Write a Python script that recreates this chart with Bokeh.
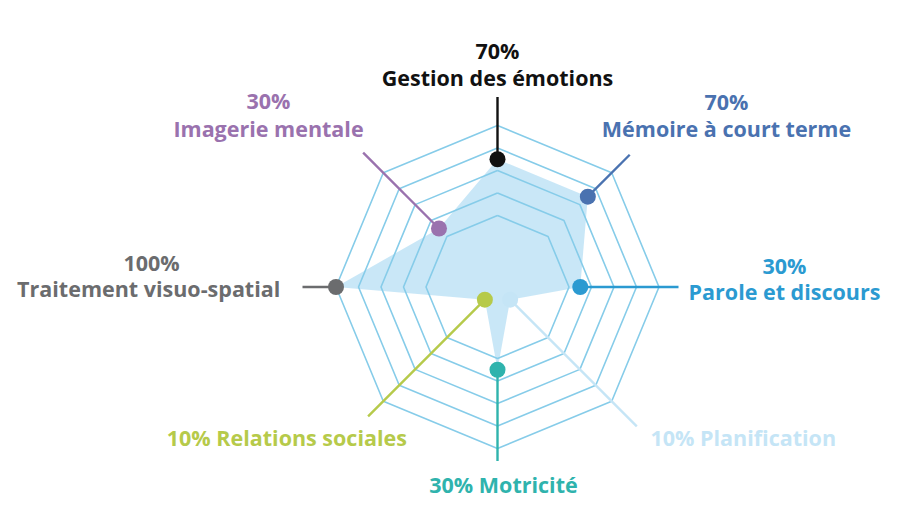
import numpy as np
from bokeh.plotting import figure
from bokeh.models import Range1d
from bokeh.core.properties import value
from bokeh.embed import file_html
from bokeh.resources import INLINE

# ---------------- data ----------------
categories = ["Gestion des émotions", "Mémoire à court terme", "Parole et discours",
              "Planification", "Motricité", "Relations  sociales",
              "Traitement  visuo-spatial", "Imagerie mentale"]
values = [70, 70, 30, 10, 30, 10, 100, 30]
ring_levels = [20, 40, 60, 80, 100]
pct_labels = [f"{v}%" for v in values]

# ---------------- style ----------------
colors = ["#111111", "#4a72b0", "#2b9ad1", "#c5e5f6",
          "#2fb3ad", "#b6ca4a", "#6b6c6e", "#9a72ae"]
angles_deg = [90, 45, 0, -45, -90, -135, 180, 135]
leader_r = [190, 187, 181, 197, 174, 183, 195, 190]
CX, CY = 497.0, 286.5
R_INNER, R_OUTER = 71.5, 161.5
FONT = "Open Sans"
FS = "21.5px"

def radius(v):
    v = np.asarray(v, dtype=float)
    k = (R_OUTER - R_INNER) / (ring_levels[-1] - ring_levels[0])
    lin = R_INNER + (v - ring_levels[0]) * k
    low = R_INNER * (v / ring_levels[0]) ** 2
    return np.where(v >= ring_levels[0], lin, low)

ang = np.radians(angles_deg)
ca, sa = np.cos(ang), -np.sin(ang)  # screen y goes down

W, H = 884, 515
p = figure(width=W, height=H, output_backend="svg", toolbar_location=None,
           x_range=Range1d(0, W), y_range=Range1d(H, 0),
           min_border=0)
p.axis.visible = False
p.grid.visible = False
p.outline_line_color = None
p.background_fill_color = "white"

# filled polygon
r_vals = radius(values)
px = CX + r_vals * ca
py = CY + r_vals * sa
p.patch(list(px), list(py), fill_color="#c6e6f7", line_color=None, fill_alpha=0.95)

# rings
for lv in ring_levels:
    rr = float(radius(lv))
    xs = list(CX + rr * ca) + [CX + rr * ca[0]]
    ys = list(CY + rr * sa) + [CY + rr * sa[0]]
    p.line(xs, ys, line_color="#86cce9", line_width=1.6)

# leader lines and dots
for i in range(len(values)):
    x0, y0 = px[i], py[i]
    x1, y1 = CX + leader_r[i] * ca[i], CY + leader_r[i] * sa[i]
    p.line([x0, x1], [y0, y1], line_color=colors[i], line_width=2.4)
p.scatter(list(px), list(py), size=16, fill_color=colors, line_color=None)

# labels (layout)
two_line = {
    0: (497, 50, 77),
    1: (726, 101, 128),
    7: (268, 100, 128),
    6: (151, 262, 288),
    2: (784, 265, 291),
}
for i, (x, y1, y2) in two_line.items():
    p.text([x], [y1], text=[pct_labels[i]], text_color=colors[i], text_align="center",
           text_baseline="middle", text_font=value(FONT), text_font_style="bold",
           text_font_size=FS)
    p.text([x], [y2], text=[categories[i]], text_color=colors[i], text_align="center",
           text_baseline="middle", text_font=value(FONT), text_font_style="bold",
           text_font_size=FS)

one_line = {5: (412, 437, "right"), 3: (650, 437, "left"), 4: (503, 484, "center")}
for i, (x, y, al) in one_line.items():
    p.text([x], [y], text=[f"{pct_labels[i]} {categories[i]}"], text_color=colors[i],
           text_align=al, text_baseline="middle", text_font=value(FONT),
           text_font_style="bold", text_font_size=FS)

open("out.html", "w").write(file_html(p, INLINE))
